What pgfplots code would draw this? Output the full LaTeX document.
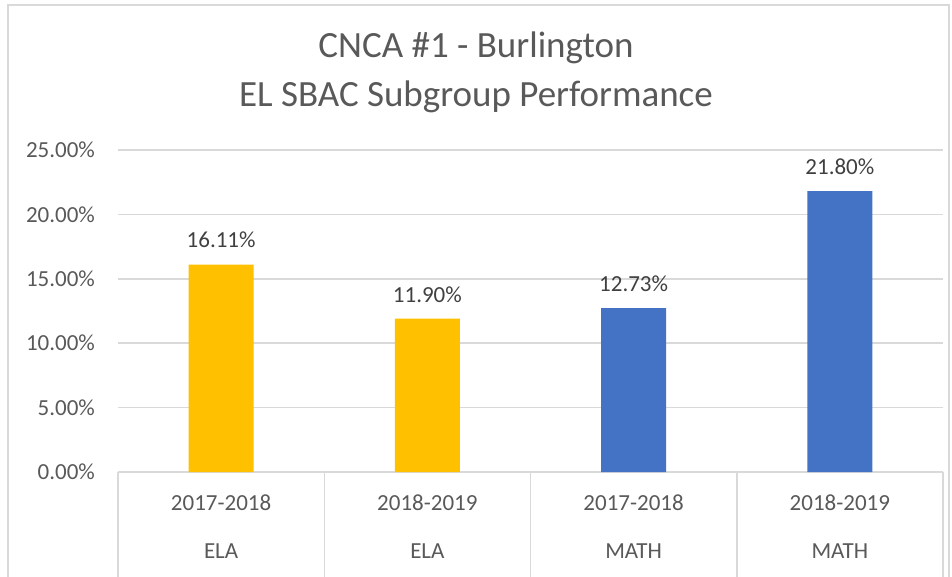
\documentclass[border=0pt]{standalone}
\usepackage{fontspec}
\setmainfont{Carlito}
\usepackage{pgfplots}
\pgfplotsset{compat=1.18}
\definecolor{elagold}{HTML}{FFC000}
\definecolor{mathblue}{HTML}{4472C4}
\definecolor{gridgray}{HTML}{D9D9D9}
\definecolor{labelgray}{HTML}{595959}
\definecolor{valgray}{HTML}{404040}
\definecolor{framegray}{HTML}{D9D9D9}

\begin{document}
\begin{tikzpicture}
\path[use as bounding box] (-59pt,-52.5pt) rectangle (417pt,236pt);
\draw[framegray, line width=0.75pt] (-55pt,-60pt) rectangle (415.5pt,233.5pt);
\begin{axis}[
    at={(0pt,0pt)}, anchor=south west,
    scale only axis,
    width=412.5pt, height=161pt,
    xmin=-0.5, xmax=3.5,
    ymin=0, ymax=25,
    ytick={0,5,...,25},
    ymajorgrids,
    grid style={gridgray, line width=0.75pt},
    axis x line=bottom,
    axis y line=left,
    x axis line style={gridgray, line width=0.75pt, -},
    y axis line style={draw=none},
    major tick length=0pt,
    /pgf/number format/assume math mode=true,
    tick label style={font=\fontsize{11.5}{14}\selectfont, text=labelgray},
    yticklabel={\pgfmathprintnumber[fixed,fixed zerofill,precision=2]{\tick}\%},
    yticklabel style={xshift=-8pt},
    xtick={0,1,2,3},
    xticklabels={{2017-2018\\[10pt]ELA},{2018-2019\\[10pt]ELA},{2017-2018\\[10pt]MATH},{2018-2019\\[10pt]MATH}},
    xticklabel style={align=center, yshift=-8pt},
    extra x ticks={-0.5,0.5,1.5,2.5,3.5},
    extra x tick labels={},
    extra x tick style={grid=none, major tick length=58pt, tick align=outside,
        tick style={gridgray, line width=0.75pt}},
    ybar, bar width=32.5pt, bar shift=0pt,
    nodes near coords={\pgfmathprintnumber[fixed,fixed zerofill,precision=2]{\pgfplotspointmeta}\%},
    nodes near coords style={font=\fontsize{11.5}{14}\selectfont, text=valgray, yshift=4.7pt},
    clip=false,
]
\addplot[fill=elagold, draw=none] coordinates {(0,16.11) (1,11.90)};
\addplot[fill=mathblue, draw=none] coordinates {(2,12.73) (3,21.80)};
\end{axis}
\node[text=labelgray, font=\fontsize{18.5}{22}\selectfont] at (179pt,212pt) {CNCA \#1 - Burlington};
\node[text=labelgray, font=\fontsize{18.5}{22}\selectfont] at (179pt,187.5pt) {EL SBAC Subgroup Performance};
\end{tikzpicture}
\end{document}
